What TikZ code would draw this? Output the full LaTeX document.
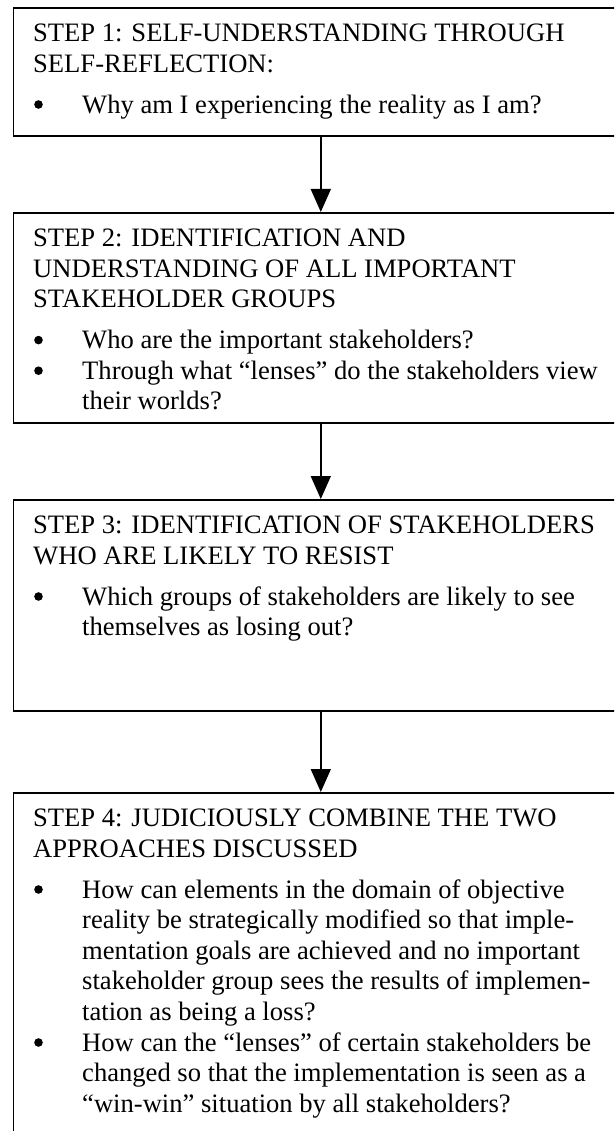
\documentclass[tikz,border=0pt]{standalone}
\usepackage{fontspec}
\setmainfont{Liberation Serif}
\usetikzlibrary{arrows.meta}
\begin{document}
\begin{tikzpicture}[x=1pt,y=1pt,
  stepbox/.style={draw=black, line width=1.6pt, anchor=north west,
    minimum width=615pt, inner sep=0pt},
  ln/.style={anchor=base west, inner sep=0pt,
    font=\fontsize{26.6}{30.6}\selectfont},
  dot/.style={circle, fill=black, inner sep=0pt, minimum size=8.6pt,
    xshift=5.5pt, yshift=8.6pt},
  flow/.style={-{Triangle[width=20pt,length=23pt]}, line width=1.5pt}]
\useasboundingbox (0,0) rectangle (614,-1131);
\fill[white] (0,0) rectangle (614,-1131);
\clip (0,0) rectangle (614,-1131);

% the four step boxes
\node[stepbox, minimum height=128pt] (step1) at (12.5,-7) {};
\node[stepbox, minimum height=210pt] (step2) at (12.5,-212) {};
\node[stepbox, minimum height=211pt] (step3) at (12.5,-499) {};
\node[stepbox, minimum height=370pt] (step4) at (12.5,-792) {};

% connectors
\draw[flow] (step1.south) -- (step2.north);
\draw[flow] (step2.south) -- (step3.north);
\draw[flow] (step3.south) -- (step4.north);

% step 1
\node[ln] (s1h1) at (33,-41.5) {STEP 1: SELF-UNDERSTANDING THROUGH};
\node[ln] (s1h2) at (33,-72.1) {SELF-REFLECTION:};
\node[dot] (s1b1) at (33,-113.1) {};
\node[ln] (s1t1) at (82,-113.1) {Why am I experiencing the reality as I am?};

% step 2
\node[ln] (s2h1) at (33,-246.5) {STEP 2: IDENTIFICATION AND};
\node[ln] (s2h2) at (33,-277.1) {UNDERSTANDING OF ALL IMPORTANT};
\node[ln] (s2h3) at (33,-307.7) {STAKEHOLDER GROUPS};
\node[dot] (s2b1) at (33,-348.7) {};
\node[ln] (s2t1) at (82,-348.7) {Who are the important stakeholders?};
\node[dot] (s2b2) at (33,-379.3) {};
\node[ln] (s2t2) at (82,-379.3) {Through what “lenses” do the stakeholders view};
\node[ln] (s2t3) at (82,-409.9) {their worlds?};

% step 3
\node[ln] (s3h1) at (33,-533.5) {STEP 3: IDENTIFICATION OF STAKEHOLDERS};
\node[ln] (s3h2) at (33,-564.1) {WHO ARE LIKELY TO RESIST};
\node[dot] (s3b1) at (33,-605.1) {};
\node[ln] (s3t1) at (82,-605.1) {Which groups of stakeholders are likely to see};
\node[ln] (s3t2) at (82,-635.7) {themselves as losing out?};

% step 4
\node[ln] (s4h1) at (33,-826.5) {STEP 4: JUDICIOUSLY COMBINE THE TWO};
\node[ln] (s4h2) at (33,-857.1) {APPROACHES DISCUSSED};
\node[dot] (s4b1) at (33,-898.1) {};
\node[ln] (s4t1) at (82,-898.1) {How can elements in the domain of objective};
\node[ln] (s4t2) at (82,-928.7) {reality be strategically modified so that imple-};
\node[ln] (s4t3) at (82,-959.3) {mentation goals are achieved and no important};
\node[ln] (s4t4) at (82,-989.9) {stakeholder group sees the results of implemen-};
\node[ln] (s4t5) at (82,-1020.5) {tation as being a loss?};
\node[dot] (s4b2) at (33,-1051.1) {};
\node[ln] (s4t6) at (82,-1051.1) {How can the “lenses” of certain stakeholders be};
\node[ln] (s4t7) at (82,-1081.7) {changed so that the implementation is seen as a};
\node[ln] (s4t8) at (82,-1112.3) {“win-win” situation by all stakeholders?};
\end{tikzpicture}
\end{document}
